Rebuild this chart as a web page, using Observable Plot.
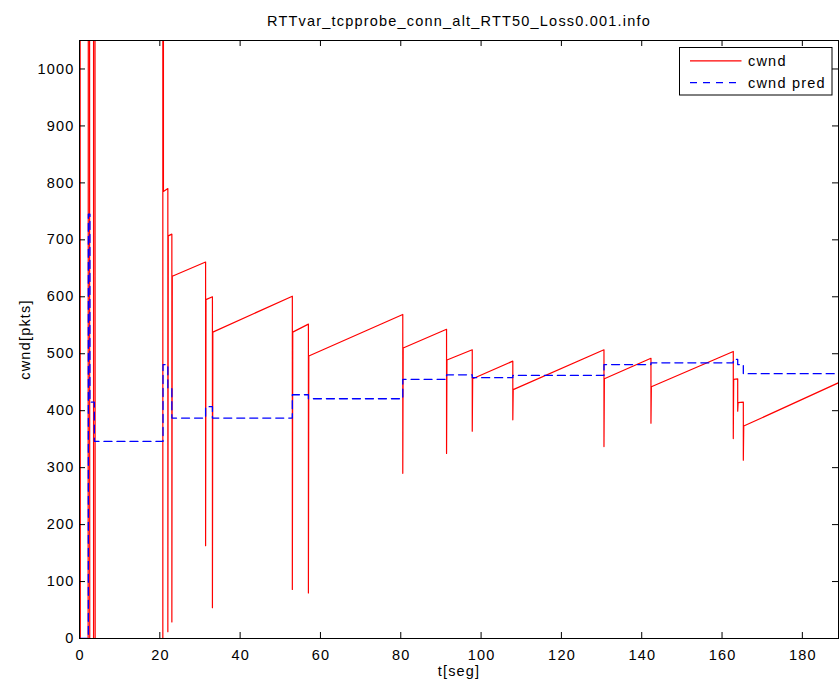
<!DOCTYPE html>
<html><head><meta charset="utf-8">
<script src="https://cdn.jsdelivr.net/npm/d3@7"></script>
<script src="https://cdn.jsdelivr.net/npm/@observablehq/plot@0.6"></script>
<style>html,body{margin:0;padding:0;background:#fff;}</style>
</head><body><div id="chart"></div>
<script>
// ---- data ----
const cwndT = [0, 0, 0.15, 0.2, 2.15, 2.2, 2.5, 2.55, 3.5, 3.5, 3.85, 3.9, 20.75, 20.75, 20.9, 20.9,
  22.0, 22.0, 22.1, 23.0, 23.0, 23.1, 31.4, 31.4, 31.5, 33.1, 33.1, 33.2, 53.0, 53.0, 53.1,
  57.0, 57.0, 57.1, 80.5, 80.5, 80.6, 91.4, 91.4, 91.5, 97.8, 97.8, 97.9, 107.9, 107.9, 108.0,
  130.6, 130.6, 130.7, 142.3, 142.3, 142.4, 162.8, 162.8, 162.9, 163.9, 163.9, 164.0,
  165.3, 165.3, 165.4, 189];
const cwndV = [0, 1400, 1400, 0, 0, 1400, 1400, 0, 0, 1400, 1400, 0, 0, 1400, 1400, 785,
  790, 12, 707, 710, 29, 636, 661, 163, 595, 600, 54, 538, 601, 86, 538,
  552, 80, 496, 569, 290, 510, 543, 325, 489, 507, 364, 456, 487, 384, 437,
  507, 337, 456, 492, 378, 442, 504, 351, 455, 456, 399, 414,
  415, 313, 373, 449];
const predT = [0, 2.2, 2.6, 3.7, 20.8, 22.0, 23.0, 31.4, 33.1, 53.0, 57.0, 80.5, 91.4, 97.8,
  107.9, 130.6, 142.3, 162.8, 163.9, 165.3, 189];
const predV = [0, 745, 415, 346, 481, 440, 387, 407, 387, 428, 421, 455, 463, 458,
  462, 481, 484, 490, 481, 465, 465];
const xTicks = [0, 20, 40, 60, 80, 100, 120, 140, 160, 180];
const yTicks = [0, 100, 200, 300, 400, 500, 600, 700, 800, 900, 1000];
const seriesNames = ["cwnd", "cwnd pred"];
const seriesColors = ["#ff0000", "#0000ff"];
const chartTitle = "RTTvar_tcpprobe_conn_alt_RTT50_Loss0.001.info";
const xLabel = "t[seg]";
const yLabel = "cwnd[pkts]";

const cwnd = cwndT.map((t, i) => ({t, v: cwndV[i]}));
const pred = predT.map((t, i) => ({t, v: predV[i]}));

const W = 839, H = 684, ml = 79, mr = 1, mt = 40, mb = 46;
const fw = W - ml - mr, fh = H - mt - mb;
const font = "'Liberation Sans', Arial, Helvetica, sans-serif";
const fs = 14.5;
const dash = "8,5";

const plot = Plot.plot({
  width: W, height: H,
  marginLeft: ml, marginRight: mr, marginTop: mt, marginBottom: mb,
  style: {fontFamily: font, fontSize: fs + "px", letterSpacing: "1.2px", background: "white", color: "black"},
  x: {domain: [0, 189], label: null},
  y: {domain: [0, 1050], label: null},
  marks: [
    Plot.line(cwnd, {x: "t", y: "v", stroke: seriesColors[0], strokeWidth: 1.2, clip: true}),
    Plot.line(pred, {x: "t", y: "v", curve: "step-after", stroke: seriesColors[1], strokeWidth: 1.3, strokeDasharray: dash, clip: true}),
    Plot.tickX(xTicks, {x: d => d, insetTop: fh - 6, stroke: "black"}),
    Plot.tickX(xTicks, {x: d => d, insetBottom: fh - 6, stroke: "black"}),
    Plot.tickY(yTicks, {y: d => d, insetRight: fw - 6, stroke: "black"}),
    Plot.tickY(yTicks, {y: d => d, insetLeft: fw - 6, stroke: "black"}),
    Plot.axisX(xTicks, {tickSize: 0, tickPadding: 11, label: null, fontSize: fs, tickFormat: d => String(d), dx: 0.6}),
    Plot.axisY(yTicks, {tickSize: 0, tickPadding: 5, label: null, fontSize: fs, tickFormat: d => String(d)}),
    Plot.frame({stroke: "black"}),
    Plot.text([chartTitle], {frameAnchor: "top", lineAnchor: "middle", textAnchor: "middle", dy: -19, fontSize: fs}),
    Plot.text([xLabel], {frameAnchor: "bottom", lineAnchor: "middle", textAnchor: "middle", dy: 33, fontSize: fs}),
    Plot.text([yLabel], {frameAnchor: "left", lineAnchor: "middle", textAnchor: "middle", dx: -54, rotate: -90, fontSize: fs})
  ]
});
document.getElementById("chart").appendChild(plot);

// legend box (MATLAB-style, inside the axes, top right)
const svg = d3.select(plot);
const lg = svg.append("g").attr("font-family", font).attr("font-size", fs).attr("text-anchor", "start");
lg.append("rect").attr("x", 679.5).attr("y", 47.5).attr("width", 152.5).attr("height", 47.5)
  .attr("fill", "white").attr("stroke", "black");
const rowsY = [60.8, 82.6];
seriesNames.forEach((name, i) => {
  lg.append("line").attr("x1", 690).attr("x2", 741.5).attr("y1", rowsY[i]).attr("y2", rowsY[i])
    .attr("stroke", seriesColors[i]).attr("stroke-width", 1.2)
    .attr("stroke-dasharray", i === 1 ? "7,6" : null);
  lg.append("text").attr("x", 748).attr("y", rowsY[i] + 5.5).attr("fill", "black")
    .attr("text-anchor", "start").text(name);
});
</script>
</body></html>
